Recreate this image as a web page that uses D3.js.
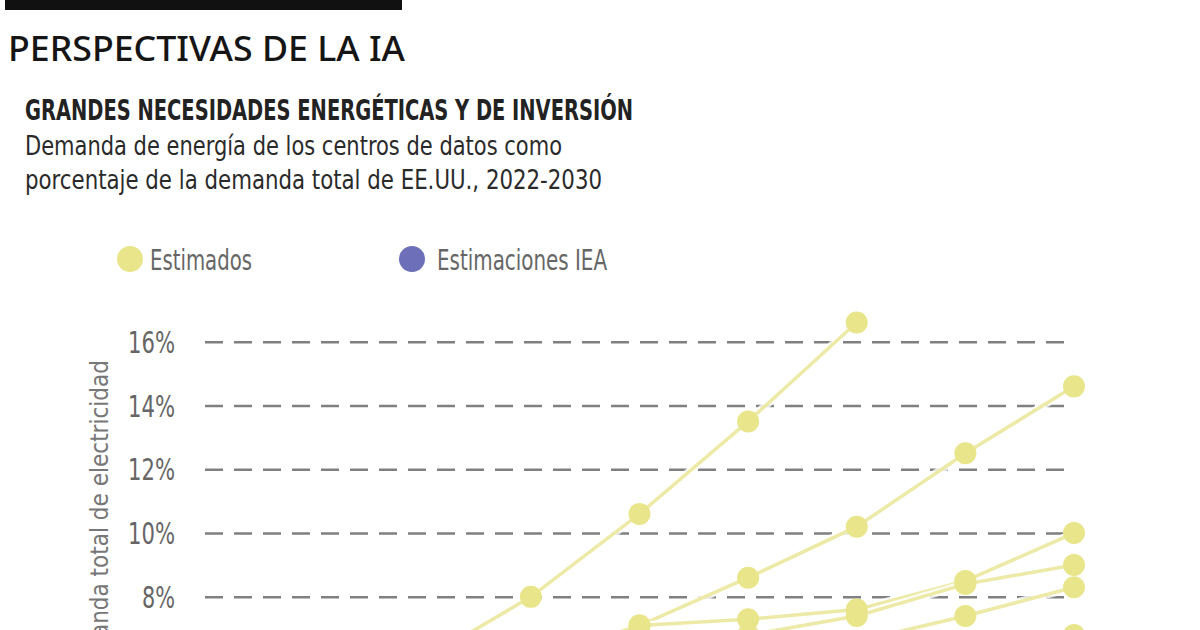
<!DOCTYPE html>
<html><head><meta charset="utf-8">
<script src="https://cdn.jsdelivr.net/npm/d3@7"></script>
<style>
body{margin:0;background:#fff;overflow:hidden}
svg{display:block}
.cond{font-family:"Liberation Sans Narrow","DejaVu Sans Condensed","DejaVu Sans",sans-serif;font-stretch:condensed}
</style>
</head><body>
<svg id="c" width="1200" height="630"></svg>
<script>
// ---- data ----
const years = [2022, 2023, 2024, 2025, 2026, 2027, 2028, 2029, 2030];
const yTicks = [8, 10, 12, 14, 16];
const est1 = [3.2, 4.3, 6.0, 8.0, 10.6, 13.5, 16.6, null, null];
const est2 = [3.0, 3.6, 4.5, 5.7, 7.1, 8.6, 10.2, 12.5, 14.6];
const est3 = [3.0, 3.8, 4.8, 6.0, 7.1, 7.3, 7.6, 8.5, 10.0];
const est4 = [null, 4.0, 4.6, 5.3, 6.2, 6.8, 7.4, 8.4, 9.0];
const est5 = [null, 4.0, 4.5, 5.0, 5.6, 6.1, 6.6, 7.4, 8.3];
const est6 = [null, 4.0, 4.4, 4.8, 5.3, 5.8, 6.2, 6.5, 6.8];
const iea  = [4.0, null, null, null, 6.0, null, null, null, null];
const legendLabels = ["Estimados", "Estimaciones IEA"];
const title = "PERSPECTIVAS DE LA IA";
const subtitle = "GRANDES NECESIDADES ENERGÉTICAS Y DE INVERSIÓN";
const desc1 = "Demanda de energía de los centros de datos como";
const desc2 = "porcentaje de la demanda total de EE.UU., 2022-2030";
const yTitle = "Demanda total de electricidad";

// ---- styles ----
const YEL = "#e9e58b", YEL_LINE = "#ecea a6".replace(" ", ""), BLUE = "#6d70b8";
const svg = d3.select("#c");

// header
svg.append("rect").attr("x", 5).attr("y", 0).attr("width", 397).attr("height", 10).attr("fill", "#111");
svg.append("text").attr("x", 8).attr("y", 61).attr("font-family", "'Noto Sans','Open Sans',sans-serif")
  .attr("font-size", 35).attr("font-weight", 500).attr("fill", "#151515").attr("textLength", 397).attr("lengthAdjust", "spacingAndGlyphs").text(title);
svg.append("text").attr("class", "cond").attr("x", 25).attr("y", 120).attr("font-size", 28).attr("font-weight", "bold")
  .attr("fill", "#222").attr("textLength", 608).attr("lengthAdjust", "spacingAndGlyphs").text(subtitle);
svg.append("text").attr("class", "cond").attr("x", 25).attr("y", 155).attr("font-size", 26)
  .attr("fill", "#2a2a2a").attr("textLength", 537).attr("lengthAdjust", "spacingAndGlyphs").text(desc1);
svg.append("text").attr("class", "cond").attr("x", 25).attr("y", 189).attr("font-size", 26)
  .attr("fill", "#2a2a2a").attr("textLength", 577).attr("lengthAdjust", "spacingAndGlyphs").text(desc2);

// legend
const leg = [{c: YEL, x: 130, tx: 150, w: 102}, {c: BLUE, x: 412, tx: 437, w: 170}];
leg.forEach((l, i) => {
  svg.append("circle").attr("cx", l.x).attr("cy", 259).attr("r", 13).attr("fill", l.c);
  svg.append("text").attr("class", "cond").attr("x", l.tx).attr("y", 270).attr("font-size", 29)
    .attr("fill", "#666").attr("textLength", l.w).attr("lengthAdjust", "spacingAndGlyphs").text(legendLabels[i]);
});

// scales
const x = d3.scaleLinear().domain([2022, 2030]).range([205, 1074]);
const y = d3.scaleLinear().domain([0, 16]).range([852, 341.7]);

// grid + y labels
const yAxis = d3.axisLeft(y).tickValues(yTicks).tickFormat(d => d + "%").tickSize(-(1075 - 205)).tickPadding(30);
const ga = svg.append("g").attr("transform", "translate(205,0)").call(yAxis);
ga.select(".domain").remove();
ga.selectAll(".tick line").attr("stroke", "#808080").attr("stroke-width", 2.5).attr("stroke-dasharray", "18,11");
ga.selectAll(".tick text").attr("class", "cond").attr("font-size", 31).attr("fill", "#666").attr("font-family", null)
  .attr("textLength", d => d >= 10 ? 47 : 33).attr("lengthAdjust", "spacingAndGlyphs").attr("dy", "0.34em");

// y title
svg.append("text").attr("class", "cond").attr("transform", "rotate(-90)")
  .attr("x", -360).attr("y", 108).attr("text-anchor", "end").attr("font-size", 24).attr("fill", "#777").text(yTitle);

// series
const estSeries = [est1, est2, est3, est4, est5, est6];
const toPts = arr => years.map((yr, i) => ({yr, v: arr[i]})).filter(d => d.v != null);
const line = d3.line().x(d => x(d.yr)).y(d => y(d.v));

const drawSeries = (arr, lineCol) => {
  const pts = toPts(arr);
  svg.append("path").datum(pts).attr("d", line).attr("fill", "none").attr("stroke", "#fff").attr("stroke-width", 8).attr("stroke-opacity", 0.8);
  svg.append("path").datum(pts).attr("d", line).attr("fill", "none").attr("stroke", lineCol).attr("stroke-width", 3.5);
};
drawSeries(iea, BLUE);
estSeries.forEach(s => drawSeries(s, YEL_LINE));
const drawPts = (arr, col) => svg.append("g").selectAll("circle").data(toPts(arr)).join("circle")
  .attr("cx", d => x(d.yr)).attr("cy", d => y(d.v)).attr("r", 11).attr("fill", col);
drawPts(iea, BLUE);
estSeries.forEach(s => drawPts(s, YEL));
</script>
</body></html>
